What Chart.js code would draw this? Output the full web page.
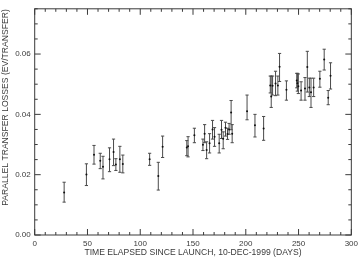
<!DOCTYPE html>
<html>
<head>
<meta charset="utf-8">
<script src="https://cdn.jsdelivr.net/npm/chart.js@4.4.1/dist/chart.umd.min.js"></script>
<style>
  html, body { margin: 0; padding: 0; background: #fff; }
  canvas { display: block; }
</style>
</head>
<body>
<canvas id="lossChart" width="362" height="261"></canvas>
<script>
"use strict";

// days since launch (10-Dec-1999)
var days = [27.9, 49.0, 56.2, 62.1, 64.7, 70.9, 74.7, 76.9, 80.7, 83.5,
            108.9, 117.1, 121.2, 144.1, 145.3, 151.3, 159.4, 161.0, 162.9, 165.7,
            168.5, 170.4, 174.8, 177.0, 178.6, 180.8, 182.7, 184.2, 186.1, 187.1,
            201.2, 208.7, 216.9, 223.2, 224.1, 225.4, 228.2, 230.4, 232.0, 238.5,
            248.3, 248.9, 249.8, 252.4, 256.1, 258.3, 260.2, 261.8, 264.3, 270.2,
            274.3, 278.1, 280.3];

// parallel transfer losses (eV/transfer)
var losses = [0.0141, 0.0201, 0.0266, 0.0246, 0.0226, 0.0251, 0.0275, 0.0234, 0.0251, 0.0235,
              0.0251, 0.0196, 0.0293, 0.0290, 0.0294, 0.0331, 0.0299, 0.0336, 0.0282, 0.0304,
              0.0350, 0.0326, 0.0304, 0.0349, 0.0319, 0.0356, 0.0335, 0.0350, 0.0406, 0.0336,
              0.0410, 0.0364, 0.0353, 0.0496, 0.0459, 0.0495, 0.0502, 0.0496, 0.0558, 0.0482,
              0.0512, 0.0503, 0.0493, 0.0479, 0.0486, 0.0557, 0.0489, 0.0473, 0.0489, 0.0518,
              0.0582, 0.0455, 0.0528];

var lossLow = [0.0109, 0.0164, 0.0235, 0.0220, 0.0186, 0.0210, 0.0230, 0.0214, 0.0208, 0.0206,
               0.0231, 0.0149, 0.0257, 0.0263, 0.0259, 0.0306, 0.0280, 0.0306, 0.0253, 0.0272,
               0.0318, 0.0294, 0.0272, 0.0320, 0.0286, 0.0328, 0.0317, 0.0334, 0.0349, 0.0306,
               0.0382, 0.0325, 0.0314, 0.0471, 0.0423, 0.0464, 0.0462, 0.0464, 0.0509, 0.0447,
               0.0488, 0.0477, 0.0469, 0.0447, 0.0447, 0.0474, 0.0459, 0.0423, 0.0459, 0.0490,
               0.0547, 0.0432, 0.0484];

var lossHigh = [0.0175, 0.0236, 0.0297, 0.0271, 0.0261, 0.0289, 0.0318, 0.0253, 0.0294, 0.0265,
                0.0271, 0.0241, 0.0328, 0.0313, 0.0326, 0.0354, 0.0318, 0.0366, 0.0309, 0.0336,
                0.0380, 0.0356, 0.0334, 0.0380, 0.0342, 0.0374, 0.0354, 0.0370, 0.0446, 0.0366,
                0.0464, 0.0400, 0.0393, 0.0527, 0.0527, 0.0527, 0.0543, 0.0527, 0.0602, 0.0511,
                0.0536, 0.0536, 0.0534, 0.0508, 0.0522, 0.0609, 0.0520, 0.0520, 0.0520, 0.0543,
                0.0616, 0.0479, 0.0571];

var xTickLabels = [0, 50, 100, 150, 200, 250, 300];
var yTickLabels = [0, 0.02, 0.04, 0.06];

var INK = "#3a3a3a";

var points = [];
for (var i = 0; i < days.length; i++)
{
    points.push({ x: days[i], y: losses[i], lo: lossLow[i], hi: lossHigh[i] });
}

// IDL-style frame: box with inward ticks on all four sides
var framePlugin = {
    id: "frame",
    afterDatasetsDraw: function (chart)
    {
        var ctx = chart.ctx;
        var a   = chart.chartArea;
        var xs  = chart.scales.x;
        var ys  = chart.scales.y;
        var v, p, len;

        ctx.save();
        ctx.strokeStyle = INK;
        ctx.lineWidth   = 1;
        ctx.strokeRect(a.left, a.top, a.right - a.left, a.bottom - a.top);

        ctx.beginPath();
        for (v = 0; v <= 300; v += 10)
        {
            p   = xs.getPixelForValue(v);
            len = (v % 50 === 0) ? 6 : 3;
            ctx.moveTo(p, a.bottom);
            ctx.lineTo(p, a.bottom - len);
            ctx.moveTo(p, a.top);
            ctx.lineTo(p, a.top + len);
        }
        for (v = 0; v <= 15; v++)
        {
            p   = ys.getPixelForValue(v * 0.005);
            len = (v % 4 === 0) ? 6 : 3;
            ctx.moveTo(a.left, p);
            ctx.lineTo(a.left + len, p);
            ctx.moveTo(a.right, p);
            ctx.lineTo(a.right - len, p);
        }
        ctx.stroke();

        // axis titles
        ctx.fillStyle    = INK;
        ctx.font         = "8.6px 'Liberation Sans', Arial, sans-serif";
        ctx.textAlign    = "center";
        ctx.textBaseline = "middle";
        ctx.fillText("TIME ELAPSED SINCE LAUNCH, 10-DEC-1999 (DAYS)", (a.left + a.right) / 2, 253);

        ctx.translate(6, 107.5);
        ctx.rotate(-Math.PI / 2);
        ctx.fillText("PARALLEL TRANSFER LOSSES (EV/TRANSFER)", 0, 0);
        ctx.restore();
    }
};

// vertical error bars with small caps
var errorBarPlugin = {
    id: "errorBars",
    beforeDatasetsDraw: function (chart)
    {
        var ctx = chart.ctx;
        var xs  = chart.scales.x;
        var ys  = chart.scales.y;
        var data = chart.data.datasets[0].data;

        ctx.save();
        ctx.strokeStyle = "#4a4a4a";
        ctx.lineWidth   = 1;
        ctx.beginPath();
        for (var i = 0; i < data.length; i++)
        {
            var px  = xs.getPixelForValue(data[i].x);
            var top = ys.getPixelForValue(data[i].hi);
            var bot = ys.getPixelForValue(data[i].lo);
            ctx.moveTo(px, top);
            ctx.lineTo(px, bot);
            ctx.moveTo(px - 1.6, top);
            ctx.lineTo(px + 1.6, top);
            ctx.moveTo(px - 1.6, bot);
            ctx.lineTo(px + 1.6, bot);
        }
        ctx.stroke();
        ctx.restore();
    }
};

function showChart()
{
    new Chart(document.getElementById("lossChart"), {
        type:    "scatter",
        data:    {
            datasets: [
                {
                    data:            points,
                    pointRadius:     1,
                    pointBorderWidth: 0,
                    pointBackgroundColor: "#111",
                    pointBorderColor: "#111"
                }
            ]
        },
        options: {
            responsive: false,
            animation:  false,
            layout:     {
                padding: { top: 1, right: 8.7, left: 0, bottom: 0 }
            },
            plugins: {
                legend:  { display: false },
                tooltip: { enabled: false }
            },
            scales: {
                x: {
                    type:   "linear",
                    min:    0,
                    max:    300,
                    border: { display: false },
                    grid:   { display: false, drawTicks: false },
                    afterBuildTicks: function (s)
                    {
                        s.ticks = xTickLabels.map(function (v) { return { value: v }; });
                    },
                    afterFit: function (s) { s.height = 26; },
                    ticks:  {
                        padding:     4,
                        maxRotation: 0,
                        color:       INK,
                        font:        { family: "'Liberation Sans', Arial, sans-serif", size: 8 },
                        callback:    function (v) { return String(v); }
                    }
                },
                y: {
                    type:   "linear",
                    min:    0,
                    max:    0.075,
                    border: { display: false },
                    grid:   { display: false, drawTicks: false },
                    afterBuildTicks: function (s)
                    {
                        s.ticks = yTickLabels.map(function (v) { return { value: v }; });
                    },
                    afterFit: function (s) { s.width = 34.7; },
                    ticks:  {
                        padding:  4,
                        color:    INK,
                        font:     { family: "'Liberation Sans', Arial, sans-serif", size: 8 },
                        callback: function (v) { return v.toFixed(2); }
                    }
                }
            }
        },
        plugins: [errorBarPlugin, framePlugin]
    });
}

window.addEventListener("DOMContentLoaded", showChart);
</script>
</body>
</html>
